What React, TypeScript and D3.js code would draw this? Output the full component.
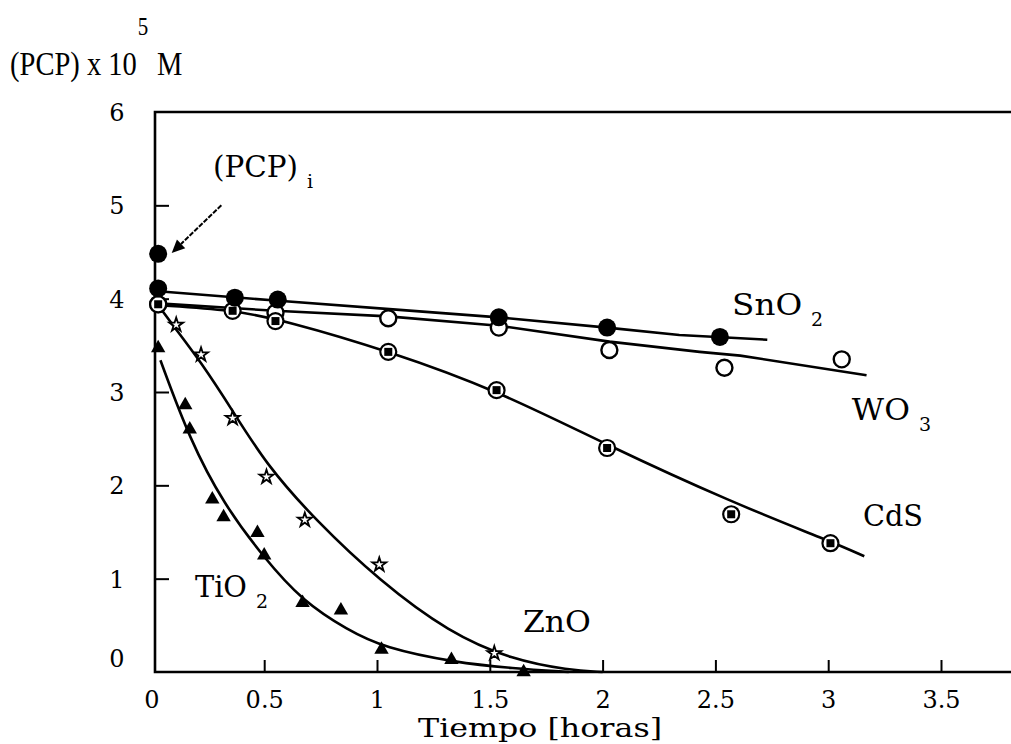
import React, { useRef, useEffect } from 'react'
import * as d3 from 'd3'

// tick values
const xTicks = [0, 0.5, 1, 1.5, 2, 2.5, 3, 3.5]
const yTicks = [0, 1, 2, 3, 4, 5, 6]

// measured points [tiempo (h), PCP x 10^5 M]
const pcpInitial = [[0.03, 4.48]]
const snO2Points = [[0.03, 4.11], [0.37, 4.01], [0.56, 3.99], [1.54, 3.8], [2.02, 3.69], [2.52, 3.59]]
const wO3Points = [[0.03, 3.94], [0.55, 3.85], [1.05, 3.79], [1.54, 3.69], [2.03, 3.45], [2.54, 3.26], [3.06, 3.35]]
const cdSPoints = [[0.03, 3.94], [0.36, 3.87], [0.55, 3.76], [1.05, 3.43], [1.53, 3.02], [2.02, 2.4], [2.57, 1.69], [3.01, 1.38]]
const znOPoints = [[0.11, 3.72], [0.22, 3.4], [0.36, 2.72], [0.51, 2.09], [0.68, 1.63], [1.01, 1.15], [1.52, 0.2]]
const tiO2Points = [[0.03, 3.47], [0.15, 2.86], [0.17, 2.6], [0.27, 1.85], [0.32, 1.66], [0.47, 1.49], [0.5, 1.25],
  [0.67, 0.74], [0.84, 0.66], [1.02, 0.24], [1.33, 0.13], [1.65, 0.0]]

// fitted curves
const snO2Fit = [[0.03, 4.08], [0.55, 3.98], [1.1, 3.88], [1.54, 3.8], [2.02, 3.69], [2.34, 3.61], [2.73, 3.56]]
const wO3Fit = [[0.03, 3.95], [0.55, 3.87], [1.05, 3.81], [1.54, 3.71], [2.03, 3.54], [2.43, 3.43], [2.61, 3.39], [3.17, 3.18]]
const cdSFit = [[0.03, 3.93], [0.03, 3.93], [0.36, 3.88], [0.6, 3.76], [1.05, 3.44], [1.53, 3.02], [2.02, 2.43],
  [2.57, 1.82], [3.01, 1.4], [3.16, 1.24], [3.16, 1.24]]
const znOFit = [[0.03, 3.93], [0.03, 3.93], [0.1, 3.7], [0.22, 3.32], [0.36, 2.8], [0.51, 2.22], [0.73, 1.62], [1.01, 0.98],
  [1.32, 0.42], [1.6, 0.13], [1.85, 0.02], [2.0, 0.0], [2.0, 0.0]]
const tiO2Fit = [[0.04, 3.34], [0.04, 3.34], [0.17, 2.49], [0.32, 1.8], [0.5, 1.22], [0.67, 0.76], [0.87, 0.45],
  [1.03, 0.26], [1.35, 0.1], [1.6, 0.04], [1.85, 0.0], [1.85, 0.0]]

// labels: [text, subscript, t, v, width of main text]
const seriesLabels = [
  ['SnO', '2', 2.574, 3.83, 70],
  ['WO', '3', 3.105, 2.7, 58],
  ['CdS', '', 3.154, 1.565, 60],
  ['ZnO', '', 1.647, 0.43, 68],
  ['TiO', '2', 0.193, 0.8, 52],
  ['(PCP)', 'i', 0.273, 5.305, 85],
]
const arrowFrom = [0.31, 5.0]
const arrowTo = [0.09, 4.49]

export default function App() {
  const svgRef = useRef(null)

  useEffect(() => {
    const svg = d3.select(svgRef.current)
    svg.selectAll('*').remove()

    const width = 1011
    const height = 744
    const x = d3.scaleLinear().domain([0, 4]).range([151.4, 1053.8])
    const y = d3.scaleLinear().domain([0, 6]).range([672, 112])
    const left = 155
    const serif = '"DejaVu Serif", serif'

    svg.append('rect').attr('width', width).attr('height', height).attr('fill', '#fff')

    // frame (right side runs off the page)
    svg.append('path')
      .attr('d', `M${width + 5},${y(6)} H${left} V${y(0)} H${width + 5}`)
      .attr('fill', 'none').attr('stroke', '#000').attr('stroke-width', 2.6)

    const xAxis = svg.append('g')
      .attr('transform', `translate(0,${y(0)})`)
      .call(d3.axisBottom(x).tickValues(xTicks).tickSize(-12).tickFormat(d3.format('')))
    xAxis.select('.domain').remove()
    xAxis.selectAll('line').attr('stroke-width', 2).filter(d => d === 0).remove()
    xAxis.selectAll('text')
      .attr('y', 28).attr('dy', '0.35em')
      .style('font-family', serif).style('font-size', '24px').attr('fill', '#000')

    const yAxis = svg.append('g')
      .attr('transform', `translate(${left},0)`)
      .call(d3.axisLeft(y).tickValues(yTicks).tickSize(-14).tickFormat(d3.format('d')))
    yAxis.select('.domain').remove()
    yAxis.selectAll('line').attr('stroke-width', 2).filter(d => d === 0 || d === 6).remove()
    yAxis.selectAll('text')
      .attr('x', -38).attr('text-anchor', 'middle')
      .attr('dy', d => d === 0 ? '-0.25em' : '0.35em')
      .style('font-family', serif).style('font-size', '24px').attr('fill', '#000')

    // y title, condensed serif
    const lib = '"Liberation Serif", serif'
    svg.append('g').attr('transform', 'translate(10,75) scale(0.84,1)')
      .append('text')
      .style('font-family', lib).style('font-size', '34px').text('(PCP) x 10')
    svg.append('g').attr('transform', 'translate(143,35) scale(0.84,1)')
      .append('text').attr('text-anchor', 'middle')
      .style('font-family', lib).style('font-size', '25px').text('5')
    svg.append('g').attr('transform', 'translate(157,75) scale(0.84,1)')
      .append('text')
      .style('font-family', lib).style('font-size', '34px').text('M')

    // x title
    svg.append('text').attr('x', 418).attr('y', 737)
      .attr('textLength', 244).attr('lengthAdjust', 'spacingAndGlyphs')
      .style('font-family', serif).style('font-size', '26px').text('Tiempo  [horas]')

    // fitted lines
    const straight = d3.line().x(d => x(d[0])).y(d => y(d[1]))
    const smooth = d3.line().x(d => x(d[0])).y(d => y(d[1])).curve(d3.curveBasis)
    const lines = [[snO2Fit, straight], [wO3Fit, straight], [cdSFit, smooth], [znOFit, smooth], [tiO2Fit, smooth]]
    lines.forEach(([data, gen]) => {
      svg.append('path').datum(data).attr('d', gen)
        .attr('fill', 'none').attr('stroke', '#000').attr('stroke-width', 2.6)
        .attr('stroke-linejoin', 'round')
    })

    // markers
    svg.append('g').selectAll('circle').data(wO3Points).join('circle')
      .attr('cx', d => x(d[0])).attr('cy', d => y(d[1])).attr('r', 8)
      .attr('fill', '#fff').attr('stroke', '#000').attr('stroke-width', 2.4)

    const cds = svg.append('g').selectAll('g').data(cdSPoints).join('g')
      .attr('transform', d => `translate(${x(d[0])},${y(d[1])})`)
    cds.append('circle').attr('r', 8).attr('fill', '#fff').attr('stroke', '#000').attr('stroke-width', 2.2)
    cds.append('rect').attr('x', -4).attr('y', -4).attr('width', 8).attr('height', 8).attr('fill', '#000')

    svg.append('g').selectAll('circle').data(snO2Points.concat(pcpInitial)).join('circle')
      .attr('cx', d => x(d[0])).attr('cy', d => y(d[1])).attr('r', 9).attr('fill', '#000')

    svg.append('g').selectAll('path').data(znOPoints).join('path')
      .attr('transform', d => `translate(${x(d[0])},${y(d[1])})`)
      .attr('d', d3.symbol(d3.symbolStar, 60))
      .attr('fill', '#fff').attr('stroke', '#000').attr('stroke-width', 1.8)

    svg.append('g').selectAll('path').data(tiO2Points).join('path')
      .attr('transform', d => `translate(${x(d[0])},${y(d[1])})`)
      .attr('d', d3.symbol(d3.symbolTriangle, 90))
      .attr('fill', '#000')

    // labels
    seriesLabels.forEach(([main, sub, t, v, w]) => {
      const txt = svg.append('text').attr('x', x(t)).attr('y', y(v))
        .style('font-family', serif).style('font-size', '30px').attr('fill', '#000')
      txt.append('tspan').attr('textLength', w).attr('lengthAdjust', 'spacingAndGlyphs').text(main)
      if (sub) {
        txt.append('tspan').attr('x', x(t) + w + 9).attr('dy', 11).style('font-size', '19px').text(sub)
      }
    })

    // arrow to (PCP)i
    const ax0 = x(arrowFrom[0]), ay0 = y(arrowFrom[1])
    const ax1 = x(arrowTo[0]), ay1 = y(arrowTo[1])
    const ang = Math.atan2(ay1 - ay0, ax1 - ax0)
    const hl = 13, hw = 6
    const bx = ax1 - hl * Math.cos(ang), by = ay1 - hl * Math.sin(ang)
    svg.append('line').attr('x1', ax0).attr('y1', ay0).attr('x2', bx).attr('y2', by)
      .attr('stroke', '#000').attr('stroke-width', 2).attr('stroke-dasharray', '5,1.5')
    svg.append('path')
      .attr('d', `M${ax1},${ay1} L${bx - hw * Math.sin(ang)},${by + hw * Math.cos(ang)} L${bx + hw * Math.sin(ang)},${by - hw * Math.cos(ang)} Z`)
      .attr('fill', '#000')
  }, [])

  return (
    <svg ref={svgRef} width={1011} height={744}
      style={{ position: 'absolute', left: 0, top: 0, display: 'block' }} />
  )
}
